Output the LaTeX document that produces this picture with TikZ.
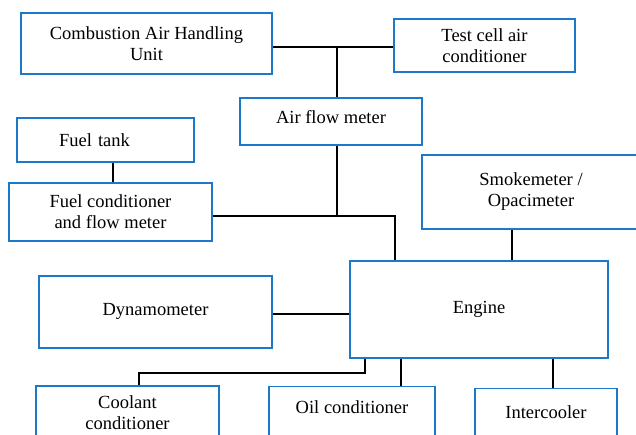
\documentclass[tikz,border=0pt]{standalone}
\usepackage{fontspec}
\setmainfont{Liberation Serif}
\usepackage{tikz}
\definecolor{boxblue}{RGB}{30,120,200}

\begin{document}
\begin{tikzpicture}[x=1pt, y=-1pt,
    box/.style={draw=boxblue, line width=1.3pt, rectangle, inner sep=0pt,
      align=center, font=\fontsize{18.5}{21}\selectfont},
    link/.style={draw=black, line width=1.5pt}]
    \useasboundingbox (0,0) rectangle (636,435);

    \node (CAHU) [box, minimum width=251pt, minimum height=61pt] at (146.5,43.5) {Combustion Air Handling\\Unit};
    \node (TC)   [box, minimum width=181pt, minimum height=53pt] at (484.5,45.5) {Test cell air\\conditioner};
    \node (AFM)  [box, minimum width=182pt, minimum height=47pt, text depth=10pt] at (331,121.5) {Air flow meter};
    \node (FT)   [box, minimum width=177pt, minimum height=44pt, text width=93pt, align=left] at (105.5,140) {Fuel tank};
    \node (FCM)  [box, minimum width=203pt, minimum height=58pt] at (110.5,212) {Fuel conditioner\\and flow meter};
    \node (SO)   [box, minimum width=218pt, minimum height=74pt] at (531,192) {Smokemeter /\\Opacimeter};
    \node (ENG)  [box, minimum width=258pt, minimum height=97pt] at (479,309.5) {Engine};
    \node (DYN)  [box, minimum width=233pt, minimum height=72pt, text depth=6pt] at (155.5,312) {Dynamometer};
    \node (CC)   [box, minimum width=183pt, minimum height=53pt] at (127.5,412.5) {Coolant\\conditioner};
    \node (OC)   [box, anchor=north, minimum width=166pt, text height=27pt, text depth=60pt] at (352,386) {Oil conditioner};
    \node (IC)   [box, anchor=north, minimum width=142pt, text height=30pt, text depth=60pt] at (546,388) {Intercooler};

    \coordinate (A) at (337,47);
    \coordinate (B) at (337,216);
    \coordinate (C) at (395,216);
    \coordinate (D) at (365,373);
    \coordinate (E) at (139,373);

    \draw[link] (CAHU.east |- A) -- (TC.west |- A);
    \draw[link] (A) -- (A |- AFM.north);
    \draw[link] (A |- AFM.south) -- (B);
    \draw[link] (FCM.east |- B) -- (C) -- (C |- ENG.north);
    \draw[link] ([xshift=2.5pt]FCM.north) -- ([xshift=2.5pt]FCM.north |- FT.south);
    \draw[link] ([xshift=-19pt]SO.south) -- ([xshift=-19pt]SO.south |- ENG.north);
    \draw[link] (DYN.east |- 0,314) -- (ENG.west |- 0,314);
    \draw[link] (D |- ENG.south) -- (D) -- (E) -- (E |- CC.north);
    \draw[link] ([xshift=49pt]OC.north) -- ([xshift=49pt]OC.north |- ENG.south);
    \draw[link] ([xshift=7pt]IC.north) -- ([xshift=7pt]IC.north |- ENG.south);
  \end{tikzpicture}
\end{document}
